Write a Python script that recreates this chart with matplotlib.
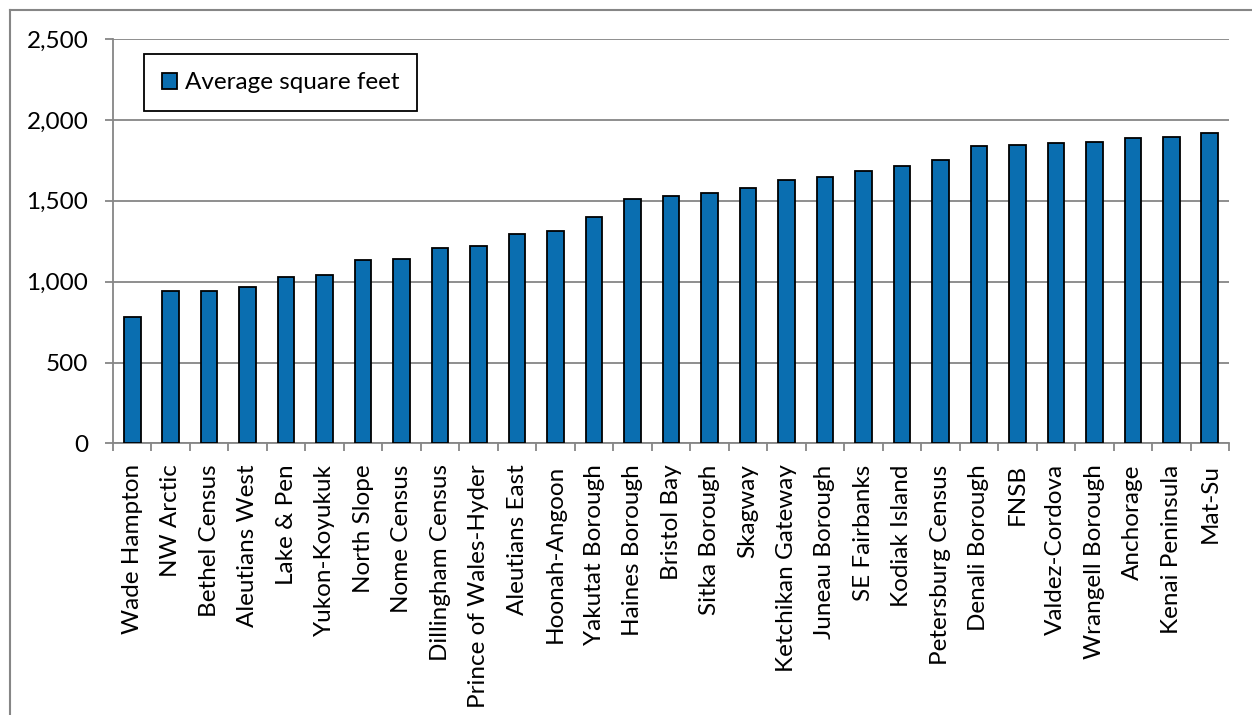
import numpy as np
import matplotlib
matplotlib.use("Agg")
import matplotlib.pyplot as plt
from matplotlib.lines import Line2D
from matplotlib.ticker import FuncFormatter

plt.rcParams["font.family"] = ["Lato", "DejaVu Sans"]

boroughs = [
    "Wade Hampton", "NW Arctic", "Bethel Census", "Aleutians West", "Lake & Pen",
    "Yukon-Koyukuk", "North Slope", "Nome Census", "Dillingham Census",
    "Prince of Wales-Hyder", "Aleutians East", "Hoonah-Angoon", "Yakutat Borough",
    "Haines Borough", "Bristol Bay", "Sitka Borough", "Skagway", "Ketchikan Gateway",
    "Juneau Borough", "SE Fairbanks", "Kodiak Island", "Petersburg Census",
    "Denali Borough", "FNSB", "Valdez-Cordova", "Wrangell Borough", "Anchorage",
    "Kenai Peninsula", "Mat-Su",
]
avg_sqft = [
    781, 941, 943, 968, 1028, 1040, 1135, 1142, 1210, 1220, 1294, 1313, 1397,
    1512, 1531, 1548, 1580, 1630, 1646, 1684, 1715, 1752, 1837, 1843, 1856,
    1866, 1888, 1893, 1921,
]
yticks = [0, 500, 1000, 1500, 2000, 2500]

W, H = 1252, 715
fs = 17.5
fig = plt.figure(figsize=(W / 100, H / 100), dpi=100)
ax = fig.add_axes([113 / W, 1 - 443.5 / H, (1229 - 113) / W, (443.5 - 39) / H])

grey = "#868686"
x = np.arange(len(boroughs))
ax.bar(x, avg_sqft, width=0.43, color="#0a6eb0", edgecolor="black",
       linewidth=1.3, label="Average square feet", zorder=3)

ax.set_xlim(-0.5, len(boroughs) - 0.5)
ax.set_ylim(0, 2500)
ax.set_yticks(yticks)
ax.yaxis.set_major_formatter(FuncFormatter(lambda v, p: f"{int(v):,}"))
ax.grid(axis="y", color=grey, linewidth=1.3, zorder=0)

ax.set_xticks(x)
ax.set_xticklabels(boroughs, rotation=90, fontsize=fs)
ax.set_xticks(np.arange(len(boroughs) + 1) - 0.5, minor=True)
ax.tick_params(axis="x", which="major", length=0, pad=15)
ax.tick_params(axis="x", which="minor", length=5.8, width=1.3, color=grey)
ax.tick_params(axis="y", length=5.8, width=1.3, color=grey, labelsize=fs, pad=12)

for s in ["top", "right"]:
    ax.spines[s].set_visible(False)
for s in ["left", "bottom"]:
    ax.spines[s].set_color(grey)
    ax.spines[s].set_linewidth(1.3)

leg = ax.legend(loc="upper left", bbox_to_anchor=(144 / W, 1 - 54 / H),
                bbox_transform=fig.transFigure, borderaxespad=0, fontsize=fs,
                fancybox=False, framealpha=1, edgecolor="black", borderpad=0.75,
                handlelength=0.62, handleheight=0.62, handletextpad=0.3)
leg.get_frame().set_linewidth(1.3)

# outer chart-area border (only top and left edges show)
fig.add_artist(Line2D([9.5 / W, 1], [1 - 9.5 / H, 1 - 9.5 / H],
                      transform=fig.transFigure, color=grey, linewidth=1.5))
fig.add_artist(Line2D([9.5 / W, 9.5 / W], [0, 1 - 9.5 / H],
                      transform=fig.transFigure, color=grey, linewidth=1.5))

fig.savefig("out.png", dpi=100)
